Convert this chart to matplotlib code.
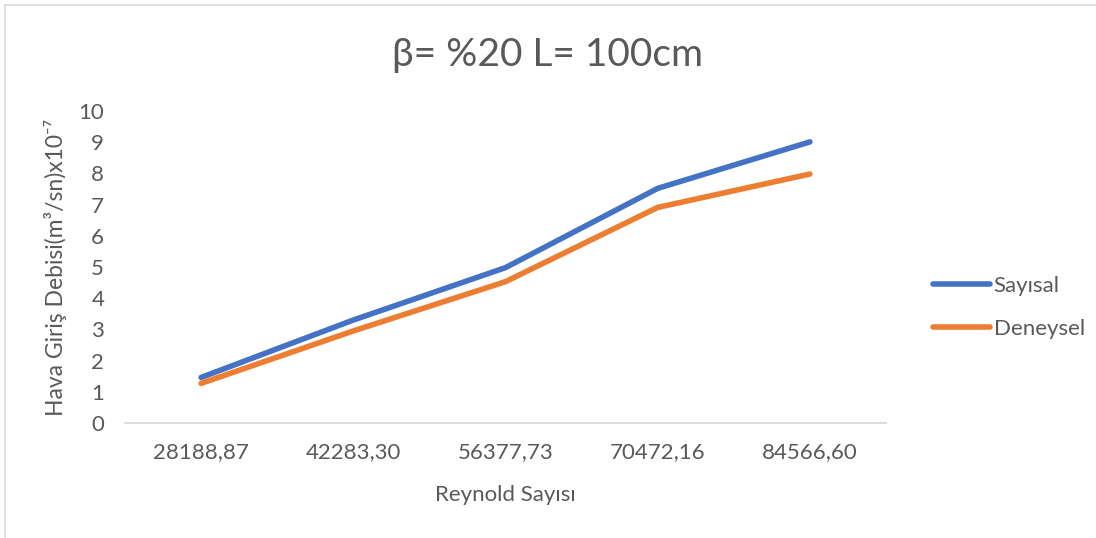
import matplotlib.pyplot as plt
from matplotlib.lines import Line2D

reynolds = ["28188,87", "42283,30", "56377,73", "70472,16", "84566,60"]
sayisal = [1.46, 3.30, 4.98, 7.52, 9.01]
deneysel = [1.27, 2.95, 4.53, 6.91, 7.98]

plt.rcParams['font.family'] = ['Lato', 'DejaVu Sans']
gray = "#595959"

fig = plt.figure(figsize=(10.96, 5.38), dpi=100)
ax = fig.add_axes([125 / 1096, 1 - 423 / 538, 761 / 1096, 312 / 538])

x = range(len(reynolds))
ax.plot(x, sayisal, color="#4472C4", lw=4, solid_capstyle="round", label="Sayısal")
ax.plot(x, deneysel, color="#ED7D31", lw=4, solid_capstyle="round", label="Deneysel")

ax.set_xlim(-0.5, len(reynolds) - 0.5)
ax.set_ylim(0, 10)
ax.set_yticks(range(0, 11))
ax.set_xticks(list(x))
ax.set_xticklabels(reynolds)
ax.tick_params(length=0, labelsize=16, colors=gray)
ax.tick_params(axis="y", pad=15)
ax.tick_params(axis="x", pad=14)
for s in ["top", "right", "left"]:
    ax.spines[s].set_visible(False)
ax.spines["bottom"].set_color("#D9D9D9")
ax.spines["bottom"].set_linewidth(1.3)

ax.set_xlabel("Reynold Sayısı", fontsize=16, color=gray, labelpad=16)
ax.set_ylabel("Hava Giriş Debisi(m³/sn)x10⁻⁷", fontsize=16.5, color=gray, labelpad=8)

fig.text(0.5, 1 - 55 / 538, "β= %20 L= 100cm", fontsize=28, color=gray,
         ha="center", va="center")

ax.legend(loc="center left", bbox_to_anchor=(1.035, 0.37), frameon=False,
          fontsize=16, labelcolor=gray, handlelength=2.6, handletextpad=0.15,
          labelspacing=1.05)

# chart frame
fig.add_artist(Line2D([5 / 1096, 1], [1 - 5 / 538] * 2, color="#D9D9D9", lw=1.2))
fig.add_artist(Line2D([5 / 1096] * 2, [0, 1 - 5 / 538], color="#D9D9D9", lw=1.2))

fig.savefig("out.png", dpi=100)
